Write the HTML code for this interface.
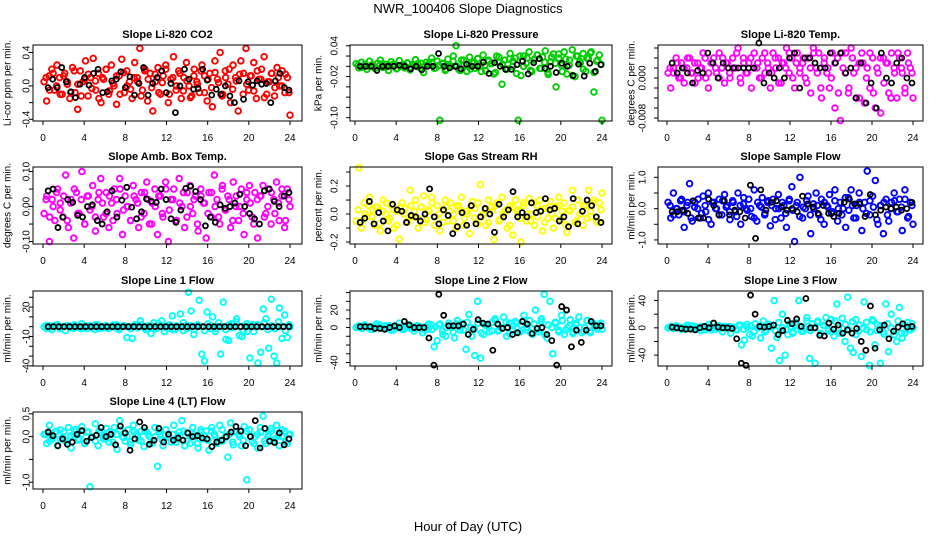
<!DOCTYPE html>
<html><head><meta charset="utf-8"><style>
body{margin:0;background:#fff}
svg{display:block}
text{font-family:"Liberation Sans",sans-serif;fill:#000}
</style></head><body>
<svg id="chart" width="936" height="540" viewBox="0 0 936 540" xmlns="http://www.w3.org/2000/svg">
<rect width="936" height="540" fill="#fff"/>
<text x="468" y="13" font-size="13" text-anchor="middle">NWR_100406  Slope Diagnostics</text>
<text x="468" y="531" font-size="13" text-anchor="middle">Hour of Day (UTC)</text>
<g id="panels"></g>
</svg>
<script>
const xTicks=[0,4,8,12,16,20,24];
const co2=[0.05,-0.18,0.12,0.2,-0.05,0.25,0.1,-0.1,0.15,0.02,-0.15,0.22,-0.08,-0.28,0.18,0.05,0.3,-0.12,0.1,0.33,-0.05,0.15,-0.2,0.08,0.2,-0.1,0.25,0.0,-0.22,0.12,0.32,-0.08,0.18,0.05,-0.15,0.28,0.1,0.45,-0.05,0.2,-0.18,0.15,-0.3,0.05,0.22,-0.1,0.12,0.25,-0.2,0.08,0.35,-0.05,0.18,-0.15,0.1,0.28,0.0,-0.12,0.2,0.05,-0.08,0.25,0.12,-0.18,0.15,-0.25,0.3,0.08,0.4,-0.1,0.18,0.02,-0.2,0.25,0.1,-0.3,0.3,0.15,0.45,-0.05,0.12,0.28,-0.15,0.08,0.2,0.35,-0.1,0.05,0.15,-0.12,0.22,0.0,0.18,-0.08,0.1,-0.35];
const co2b=[0.1,-0.05,0.15,0.0,-0.1,0.12,0.05,-0.08,0.18,0.02,-0.12,0.08,0.14,-0.03,0.06,-0.15,0.1,0.2,-0.06,0.03,0.12,-0.1,0.16,0.0,-0.04,0.1,0.05,-0.12,0.18,0.08,-0.02,0.14,-0.08,0.04,0.2,-0.1,0.1,0.0,0.15,-0.06,0.06,-0.14,0.12,0.02,0.18,-0.08,0.08,-0.02,0.16,0.04,-0.12,0.1,0.2,-0.04,0.06,0.14,-0.1,0.02,0.12,-0.06,0.18,0.08,-0.14,0.05,0.15,-0.02,0.1,0.0,0.14,-0.08];
const co2Ref=[-0.02,0.08,-0.02,0.22,0.05,-0.07,-0.14,0.02,0.1,0.01,0.15,0.2,-0.08,-0.07,0.06,0.08,0.17,-0.02,0.11,-0.11,0.03,0.22,-0.11,0.03,0.1,0.18,-0.08,0.03,-0.32,0.0,0.2,0.08,-0.04,-0.03,0.2,0.07,-0.11,-0.04,-0.1,0.0,-0.12,-0.2,0.06,-0.16,0.05,0.01,0.06,0.02,0.03,-0.2,0.06,0.15,-0.02,-0.05];
const pres=[0.005,-0.003,0.008,0.0,-0.006,0.01,0.003,-0.004,0.006,0.012,-0.002,0.004,-0.008,0.009,0.001,-0.005,0.011,0.002,-0.003,0.007,-0.007,0.004,0.013,-0.001,0.006,-0.012,0.008,0.003,0.016,-0.004,0.01,-0.105,0.005,-0.008,0.014,0.0,0.02,0.04,-0.006,0.012,0.003,-0.01,0.018,0.007,-0.004,0.015,0.001,0.022,-0.009,0.01,0.005,-0.015,0.02,0.008,-0.035,0.012,-0.005,0.025,0.0,0.016,-0.105,-0.018,0.02,0.006,0.028,-0.01,0.014,0.022,-0.004,0.018,0.03,-0.012,0.009,0.024,-0.04,0.016,0.002,0.028,-0.015,0.012,0.032,-0.02,0.02,0.006,0.025,-0.01,0.015,0.028,-0.05,0.01,0.022,-0.105];
const presb=[0.002,-0.002,0.004,0.0,0.003,-0.003,0.001,0.005,-0.001,0.002,0.004,-0.004,0.0,0.003,0.006,-0.002,0.002,0.005,-0.005,0.001,0.004,0.008,-0.003,0.002,0.006,-0.006,0.003,0.01,0.0,-0.008,0.012,0.004,-0.005,0.008,0.015,-0.01,0.002,0.012,0.006,-0.012,0.018,0.004,-0.006,0.014,0.01,-0.014,0.02,0.0,0.016,-0.008,0.012,0.022,-0.004,0.008,-0.016,0.018,0.006,0.024,-0.01,0.014,0.002,-0.018,0.02,0.01,-0.006,0.016,0.026,-0.012,0.012,0.004];
const presRef=[0.0,0.0,0.0,-0.008,0.0,0.0,0.0,0.002,0.0,-0.005,0.0,-0.007,0.0,0.0,0.025,0.0,-0.003,0.0,-0.005,0.004,0.0,0.0,0.008,-0.014,0.007,0.0,-0.006,-0.006,0.003,0.01,-0.015,0.007,0.015,-0.004,0.0,-0.012,0.006,0.0,-0.018,0.004,-0.019,0.006,-0.01,0.003];
const temp=[0.001,-0.002,0.002,0.004,0.0,0.003,-0.001,0.002,0.004,0.001,-0.001,0.003,0.002,0.005,0.0,-0.002,0.003,0.004,0.001,0.005,0.002,-0.001,0.003,0.0,0.004,0.002,0.006,-0.001,0.004,0.001,0.003,-0.002,0.005,0.002,0.0,0.004,0.001,0.003,-0.002,0.005,0.002,0.004,-0.001,0.003,0.006,0.001,0.004,-0.002,0.005,0.002,0.003,0.0,0.004,-0.003,0.006,0.002,0.005,-0.004,0.003,0.001,-0.002,0.005,-0.006,0.004,-0.0085,0.002,0.005,-0.003,0.006,0.001,-0.004,0.003,0.005,-0.005,0.002,-0.002,0.004,-0.006,0.001,-0.007,0.004,0.003,-0.003,0.005,0.002,-0.004,0.004,0.001,-0.003,0.005,0.002,-0.004];
const tempb=[0.002,0.001,0.003,0.0,0.002,0.004,0.001,0.003,0.0,0.002,0.004,0.001,0.003,0.002,0.0,0.004,0.003,0.001,0.002,0.005,0.0,0.003,0.001,0.004,0.002,0.003,0.0,0.005,0.002,0.001,0.004,-0.001,0.003,0.002,0.005,0.0,0.003,0.001,0.004,-0.001,0.002,0.005,0.001,-0.002,0.004,0.002,0.0,0.003,-0.003,0.005,0.001,-0.002,0.004,0.002,-0.004,0.003,0.0,0.005,-0.003,0.002,0.004,-0.001,0.003,-0.004,0.001,0.005,0.002,-0.002,0.003,0.001];
const tempRef=[0.003,0.001,0.002,0.001,-0.001,0.0015,0.001,0.005,0.003,0.0,0.003,0.002,0.002,0.002,0.002,0.002,0.002,0.007,-0.001,0.001,0.0,0.002,0.0,0.004,0.005,-0.002,0.004,0.004,0.003,0.002,0.002,0.005,0.003,0.005,0.001,0.002,-0.004,0.003,-0.005,-0.001,-0.006,0.005,0.0,-0.001,0.003,0.004,0.0,-0.001];
const amb=[-0.02,0.03,-0.1,0.02,-0.04,0.05,0.01,-0.03,0.09,-0.06,0.02,-0.09,0.04,-0.02,0.1,-0.05,0.03,-0.01,0.06,-0.07,0.02,0.08,-0.03,0.04,-0.06,0.01,0.05,-0.02,0.08,-0.08,0.03,0.0,-0.04,0.06,0.02,-0.06,0.04,-0.02,0.07,-0.05,0.01,0.05,-0.08,0.03,-0.03,0.07,-0.1,0.02,0.05,-0.04,0.08,0.0,-0.06,0.04,0.06,-0.02,0.03,-0.07,0.05,0.01,-0.09,0.04,-0.03,0.09,0.02,-0.05,0.06,-0.01,0.03,-0.06,0.07,0.0,-0.04,0.05,-0.08,0.02,0.06,-0.03,0.04,-0.09,0.03,0.06,-0.02,0.05,-0.05,0.02,0.07,-0.04,0.03,-0.06,0.05,0.0];
const ambb=[0.02,-0.03,0.0,0.04,-0.01,0.03,-0.04,0.01,0.05,-0.02,0.02,-0.05,0.03,0.0,-0.03,0.04,0.01,-0.02,0.03,-0.04,0.02,0.05,-0.01,0.0,-0.04,0.03,0.01,-0.03,0.04,0.02,-0.05,0.0,0.03,-0.02,0.05,-0.01,0.02,-0.04,0.01,0.04,-0.03,0.0,0.02,-0.05,0.03,0.01,-0.02,0.04,0.0,-0.03,0.05,-0.01,0.02,-0.04,0.03,0.0,-0.02,0.04,0.01,-0.05,0.02,0.03,-0.03,0.0,0.04,-0.02,0.01,0.05,-0.04,0.02];
const ambRef=[0.045,0.05,-0.06,-0.03,0.02,0.012,-0.025,-0.03,0.0,0.005,-0.04,-0.05,-0.015,0.045,-0.03,0.018,0.055,-0.002,-0.035,-0.015,0.022,0.015,0.012,0.05,0.02,-0.035,-0.045,-0.01,0.052,0.058,0.043,0.02,-0.055,-0.03,-0.045,0.005,-0.005,0.0,0.01,0.035,0.0,-0.02,-0.035,-0.05,0.045,0.05,0.015,0.0,0.03,0.04];
const rh=[-0.05,0.33,-0.1,0.08,-0.02,0.12,0.03,-0.08,0.05,-0.12,0.1,0.0,-0.05,0.06,-0.1,0.02,-0.18,0.08,0.04,-0.06,0.17,-0.02,0.1,-0.1,0.05,0.13,-0.04,0.02,0.12,-0.08,0.06,-0.12,0.03,0.1,-0.05,0.08,0.0,-0.1,0.06,0.12,-0.03,0.02,-0.14,0.09,0.04,-0.07,0.21,0.0,-0.08,0.1,0.05,-0.18,0.08,-0.04,0.12,0.02,-0.1,0.06,-0.15,0.1,0.03,-0.2,0.08,-0.05,0.11,0.0,-0.08,0.06,0.1,-0.12,0.04,-0.03,0.09,-0.1,0.05,0.12,-0.04,0.08,-0.13,0.02,0.17,-0.06,0.1,0.0,-0.08,0.06,0.17,-0.02,0.1,-0.05,0.08,0.15];
const rhb=[0.03,-0.05,0.0,0.06,-0.02,0.05,-0.07,0.02,0.08,-0.03,0.03,-0.08,0.05,0.0,-0.05,0.06,0.02,-0.03,0.05,-0.06,0.03,0.08,-0.02,0.0,-0.06,0.05,0.02,-0.05,0.06,0.03,-0.08,0.0,0.05,-0.03,0.08,-0.02,0.03,-0.06,0.02,0.06,-0.05,0.0,0.03,-0.08,0.05,0.02,-0.03,0.06,0.0,-0.05,0.08,-0.02,0.03,-0.06,0.05,0.0,-0.03,0.06,0.02,-0.08,0.03,0.05,-0.05,0.0,0.06,-0.03,0.02,0.08,-0.06,0.03];
const rhRef=[-0.06,-0.03,0.09,-0.07,0.01,-0.05,-0.12,0.07,0.03,0.02,-0.06,-0.01,-0.02,-0.05,0.0,0.18,-0.02,-0.07,0.03,-0.01,-0.14,-0.09,0.01,-0.08,0.06,-0.07,-0.02,0.04,0.0,-0.13,0.07,-0.02,0.03,0.16,-0.02,0.01,-0.02,0.08,0.01,0.02,0.11,0.03,0.04,-0.05,-0.02,-0.09,0.11,-0.07,0.02,0.1,0.06,-0.02,-0.06];
const flow=[0.2,-0.3,0.5,0.0,-0.2,0.3,-0.6,0.1,0.8,-0.4,0.2,0.0,-0.3,0.4,-0.1,0.5,-0.5,0.2,0.0,0.3,-0.2,0.45,0.1,-0.35,0.25,-0.1,0.5,-0.5,0.15,0.0,0.3,-0.25,0.6,-0.4,0.1,0.35,-0.15,0.2,-0.55,0.3,0.0,0.45,-0.3,0.1,-0.6,0.25,0.7,-1.05,0.2,1.0,-0.3,0.0,0.4,-0.8,0.15,0.5,-0.2,0.3,-0.5,0.1,0.45,-0.1,0.6,-0.4,0.2,0.0,-0.6,0.35,0.6,-0.3,0.1,0.5,-0.7,0.2,1.2,-0.2,0.4,0.9,-0.5,0.1,-0.8,0.3,-0.4,0.2,0.5,-0.1,0.3,-0.7,0.6,-0.3,0.2,-0.5];
const flowb=[0.1,-0.2,0.0,0.25,-0.1,0.2,-0.3,0.05,0.3,-0.15,0.1,-0.35,0.2,0.0,-0.2,0.25,0.05,-0.1,0.2,-0.25,0.1,0.35,-0.05,0.0,-0.3,0.2,0.05,-0.2,0.25,0.1,-0.35,0.0,0.2,-0.15,0.3,-0.05,0.1,-0.25,0.05,0.25,-0.2,0.0,0.1,-0.35,0.2,0.05,-0.15,0.25,0.0,-0.2,0.35,-0.05,0.1,-0.3,0.2,0.0,-0.15,0.25,0.05,-0.35,0.1,0.2,-0.2,0.0,0.25,-0.1,0.05,0.3,-0.25,0.1];
const flowRef=[-0.1,-0.1,-0.05,-0.15,0.25,-0.3,-0.3,0.3,0.1,-0.2,0.25,-0.2,-0.05,-0.1,-0.3,0.75,-0.95,0.6,-0.05,0.2,0.25,0.05,-0.05,0.0,-0.1,0.4,0.15,0.05,-0.15,0.1,-0.15,-0.25,-0.15,0.2,0.3,0.15,0.15,-0.25,0.45,-0.2,-0.05,0.05,0.0,0.05,-0.05,0.0,0.2];
const line1=[0,-2,1,-3,0,2,-1,0,-4,1,0,-2,1,-1,3,0,-2,1,0,-3,2,0,-1,1,-2,0,2,-1,-3,0,1,-11,0,-12,2,-1,6,0,-3,1,-7,4,-2,0,6,-5,1,-2,11,-3,0,13,-4,1,35,16,-8,0,27,-28,-35,15,-2,10,-5,0,-28,25,-13,-14,3,0,8,-9,-10,1,-5,-32,2,0,-37,-26,18,8,-22,28,-30,-37,19,-12,12,-11,0];
const line1b=[1,-1,0,2,-2,0,1,-1,2,0,-2,1,0,-1,2,-2,0,1,-1,0,2,-1,1,0,-2,1,0,2,-1,0,1,-2,3,0,-1,2,-3,1,0,4,-2,1,-3,2,0,-4,3,1,-2,4,0,-3,2,-1,5,0,-4,3,1,-5,2,0,4,-3,1,-2,5,0,-4,2];
const line1Ref=[0,0,0,0,0,0,0,0,0,0,0,0,0,0,0,0,0,0,0,0,0,0,0,0,0,0,0,0,0,0,0,0,0,0,0,0,0,0,0,0,0,0,0,0,0,0];
const line2=[0,2,-1,3,0,-2,1,4,0,-1,2,0,-3,1,0,5,-2,0,3,-1,-4,2,0,-6,1,-2,3,-22,-15,4,-8,-10,5,0,-12,8,-3,4,-25,15,-10,-32,30,-35,-8,2,-5,6,10,-4,0,12,-10,5,-2,7,-6,3,14,-3,8,-8,20,-5,10,38,-12,30,-30,5,-3,14,-8,0,9,-5,3,12,-6,0,8,-4,5,0,3,-2];
const line2b=[1,-1,2,0,-2,1,3,-1,0,2,-3,1,0,-2,3,1,-1,2,0,-3,4,-2,1,3,-4,0,2,-5,4,1,-3,6,0,-2,5,-6,3,1,-4,8,-3,0,6,-7,2,5,-5,8,0,-6,4,-2,7,-8,3,0,6,-5,8,-3,2,-7,5,0,-4,8,-6,3,-2,5];
const line2Ref=[1,1,1,-1,-1,-2,0,2,0,7,3,0,0,0,-12,-43,38,14,2,2,2,4,-8,-2,9,5,4,-26,4,-1,0,-8,-6,7,4,-7,-1,0,-8,-15,-43,24,20,-22,-3,-17,-3,7,2,2];
const line3=[0,2,-1,3,0,-2,1,4,0,-1,2,0,-4,1,0,5,-3,0,3,-1,-6,2,0,-8,1,-2,4,-25,-18,5,-10,-12,6,0,-15,10,-4,5,-30,40,-14,-48,20,-40,-10,2,-6,8,40,-5,0,15,-45,6,-52,10,-8,4,15,-4,12,-12,35,-8,14,-20,45,-30,-36,12,-5,-42,38,-3,-55,12,-25,4,-52,-6,35,-35,20,-10,-20,30,-15,-8,8,-3,0];
const line3b=[1,-1,2,0,-2,1,3,-1,0,2,-3,1,0,-2,3,1,-1,2,0,-3,4,-2,1,3,-5,0,2,-6,5,1,-4,8,0,-3,6,-8,4,1,-5,10,-4,0,8,-9,3,6,-6,10,0,-8,5,-3,9,-10,4,0,8,-6,10,-4,3,-9,6,0,-5,10,-8,4,-3,6];
const line3Ref=[1,0,-1,-2,-2,-3,0,2,0,7,1,0,0,-1,-16,-52,-55,48,20,2,1,2,4,-10,-4,11,6,13,2,43,0,0,-11,-12,7,-2,4,-8,-3,-8,-1,-20,-33,32,-30,-3,4,-16,-5,1,6,1,2];
const line4=[0.05,-0.15,0.25,-0.05,0.1,-0.2,0.15,0.0,-0.1,0.2,-0.25,0.05,0.15,-0.05,0.22,-0.15,0.1,-1.1,0.0,0.28,-0.2,0.1,-0.05,0.18,-0.12,0.05,0.2,-0.28,0.35,0.0,-0.1,0.15,-0.18,0.25,0.05,-0.08,0.12,-0.22,0.1,0.0,-0.15,0.2,-0.65,0.05,-0.2,0.15,0.0,-0.12,0.25,-0.05,0.1,0.35,-0.2,0.08,-0.15,0.2,0.0,-0.25,0.15,-0.05,0.12,-0.3,0.2,0.05,-0.15,0.25,-0.1,0.0,-0.45,0.3,-0.18,0.1,0.05,-0.2,0.22,-0.95,0.15,-0.1,0.0,-0.25,0.2,0.45,-0.15,0.05,0.18,-0.1,0.25,-0.2,0.0,0.12,-0.15,0.05];
const line4b=[0.05,-0.1,0.0,0.12,-0.05,0.1,-0.15,0.02,0.15,-0.08,0.05,-0.15,0.1,0.0,-0.1,0.12,0.02,-0.05,0.1,-0.12,0.05,0.15,-0.02,0.0,-0.12,0.1,0.02,-0.1,0.12,0.05,-0.15,0.0,0.1,-0.08,0.15,-0.02,0.05,-0.12,0.02,0.12,-0.1,0.0,0.05,-0.15,0.1,0.02,-0.08,0.12,0.0,-0.1,0.15,-0.02,0.05,-0.12,0.1,0.0,-0.08,0.12,0.02,-0.15,0.05,0.1,-0.1,0.0,0.12,-0.05,0.02,0.15,-0.12,0.05];
const line4Ref=[0.1,0.02,-0.2,-0.05,-0.17,-0.12,0.05,0.13,-0.1,-0.02,0.03,0.2,0.0,0.05,-0.18,0.23,0.08,-0.3,-0.05,0.32,0.2,-0.17,-0.08,0.18,-0.12,0.05,-0.08,-0.03,-0.08,0.08,0.0,0.02,-0.03,-0.05,-0.22,-0.12,-0.08,0.0,0.1,0.22,0.12,-0.2,0.0,0.35,-0.25,0.18,-0.1,-0.13,0.08,-0.18,-0.05];
const co2Ticks=[-0.4,-0.2,0,0.2,0.4], co2Labels=["-0.4","","0.0","","0.4"];
const presTicks=[0.04,0.02,0,-0.02,-0.04,-0.06,-0.08,-0.10], presLabels=["0.04","","","-0.02","","","","-0.10"];
const tempTicks=[0.006,0.004,0.002,0,-0.002,-0.004,-0.006,-0.008], tempLabels=["","","","0.000","","","","-0.008"];
const ambTicks=[-0.1,-0.05,0,0.05,0.1], ambLabels=["-0.10","","0.00","","0.10"];
const rhTicks=[-0.2,-0.1,0,0.1,0.2,0.3], rhLabels=["-0.2","","0.0","","0.2",""];
const flowTicks=[-1,-0.5,0,0.5,1], flowLabels=["-1.0","","0.0","","1.0"];
const l1Ticks=[30,20,10,0,-10,-20,-30,-40], l1Labels=["","20","","","-10","","","-40"];
const l2Ticks=[40,30,20,10,0,-10,-20,-30,-40], l2Labels=["","","20","","0","","","","-40"];
const l3Ticks=[40,20,0,-20,-40], l3Labels=["40","","0","","-40"];
const l4Ticks=[0.5,0,-0.5,-1], l4Labels=["0.5","0.0","","-1.0"];

const cols=[{x0:33,x1:302,h0:43,h1:290,lab:27,tit:8},{x0:350,x1:612,h0:355,h1:602,lab:335,tit:319},{x0:658,x1:923,h0:667,h1:913,lab:643,tit:632}];
const rows=[[45,121],[167,244],[291,366],[412,489]];
const panels=[
 {id:'co2',t:'Slope Li-820 CO2',yl:'Li-cor ppm per min.',c:0,r:0,min:-0.42,max:0.49,d:co2,d2:co2b,k:co2Ref,col:'#ff0000',tk:co2Ticks,tl:co2Labels},
 {id:'pressure',t:'Slope Li-820 Pressure',yl:'kPa per min.',c:1,r:0,min:-0.1065,max:0.0415,d:pres,d2:presb,k:presRef,col:'#00cd00',tk:presTicks,tl:presLabels},
 {id:'li820-temp',t:'Slope Li-820 Temp.',yl:'degrees C per min.',c:2,r:0,min:-0.0086,max:0.0066,d:temp,d2:tempb,k:tempRef,col:'#ff00ff',tk:tempTicks,tl:tempLabels},
 {id:'amb-box-temp',t:'Slope Amb. Box Temp.',yl:'degrees C per min.',c:0,r:1,min:-0.107,max:0.113,d:amb,d2:ambb,k:ambRef,col:'#ff00ff',tk:ambTicks,tl:ambLabels},
 {id:'gas-stream-rh',t:'Slope Gas Stream RH',yl:'percent per min.',c:1,r:1,min:-0.214,max:0.336,d:rh,d2:rhb,k:rhRef,col:'#ffff00',tk:rhTicks,tl:rhLabels},
 {id:'sample-flow',t:'Slope Sample Flow',yl:'ml/min per min.',c:2,r:1,min:-1.13,max:1.33,d:flow,d2:flowb,k:flowRef,col:'#0000ff',tk:flowTicks,tl:flowLabels},
 {id:'line1-flow',t:'Slope Line 1 Flow',yl:'ml/min per min.',c:0,r:2,min:-40.1,max:36.4,d:line1,d2:line1b,k:line1Ref,col:'#00ffff',tk:l1Ticks,tl:l1Labels},
 {id:'line2-flow',t:'Slope Line 2 Flow',yl:'ml/min per min.',c:1,r:2,min:-44,max:41.8,d:line2,d2:line2b,k:line2Ref,col:'#00ffff',tk:l2Ticks,tl:l2Labels},
 {id:'line3-flow',t:'Slope Line 3 Flow',yl:'ml/min per min.',c:2,r:2,min:-56,max:54,d:line3,d2:line3b,k:line3Ref,col:'#00ffff',tk:l3Ticks,tl:l3Labels},
 {id:'line4-flow',t:'Slope Line 4 (LT) Flow',yl:'ml/min per min.',c:0,r:3,min:-1.15,max:0.54,d:line4,d2:line4b,k:line4Ref,col:'#00ffff',tk:l4Ticks,tl:l4Labels}
];
const NS='http://www.w3.org/2000/svg';
function mk(tag,attrs,parent){const e=document.createElementNS(NS,tag);for(const a in attrs)e.setAttribute(a,attrs[a]);parent.appendChild(e);return e;}
const root=document.getElementById('panels');
panels.forEach(p=>{
 const C=cols[p.c],[y0,y1]=rows[p.r];
 const xs=h=>C.h0+(C.h1-C.h0)*h/24;
 const ys=v=>y1-(v-p.min)/(p.max-p.min)*(y1-y0);
 const g=mk('g',{},root);
 
 
 const tt=mk('text',{x:(C.x0+C.x1)/2,y:y0-7,'font-size':11,'font-weight':'bold','text-anchor':'middle'},g);
 tt.textContent=p.t;
 
 
 const yt=mk('text',{x:C.tit,y:(y0+y1)/2,'font-size':10,'text-anchor':'middle',transform:'rotate(-90 '+C.tit+' '+(y0+y1)/2+')','dominant-baseline':'central'},g);
 yt.textContent=p.yl;
 
 
 const pts=mk('g',{fill:'none',stroke:p.col,'stroke-width':1.9},g);
 
 
 p.d2.forEach((v,i)=>{
  const c=mk('circle',{cx:xs(0.3+23.6*i/(p.d2.length-1)),cy:ys(v),r:2.8},pts);
  
  
 });
 p.d.forEach((v,i)=>{
  const c=mk('circle',{cx:xs(0.1+23.9*i/(p.d.length-1)),cy:ys(v),r:2.8},pts);
  
  
 });
 const bk=mk('g',{fill:'none',stroke:'#000','stroke-width':1.8},g);
 
 
 p.k.forEach((v,i)=>{
  const c=mk('circle',{cx:xs(0.5+23.4*i/(p.k.length-1)),cy:ys(v),r:2.5},bk);
  
  
 });
 const box=mk('rect',{x:C.x0,y:y0,width:C.x1-C.x0,height:y1-y0,fill:'none',stroke:'#000','stroke-width':1},g);
 
 
 const xa=mk('g',{},g);
 
 
 xTicks.forEach(h=>{
  mk('line',{x1:xs(h),x2:xs(h),y1:y1,y2:y1+4,stroke:'#000'},xa);
  const t=mk('text',{x:xs(h),y:y1+20,'font-size':10,'text-anchor':'middle'},xa);
  t.textContent=h;
 });
 const ya=mk('g',{},g);
 
 
 p.tk.forEach((v,i)=>{
  const y=ys(v);
  mk('line',{x1:C.x0,x2:C.x0-4,y1:y,y2:y,stroke:'#000'},ya);
  if(p.tl[i]){
   const t=mk('text',{x:C.lab,y:y,'font-size':10,'text-anchor':'middle','dominant-baseline':'central',transform:'rotate(-90 '+C.lab+' '+y+')'},ya);
   t.textContent=p.tl[i];
  }
 });
});
</script>
</body></html>
